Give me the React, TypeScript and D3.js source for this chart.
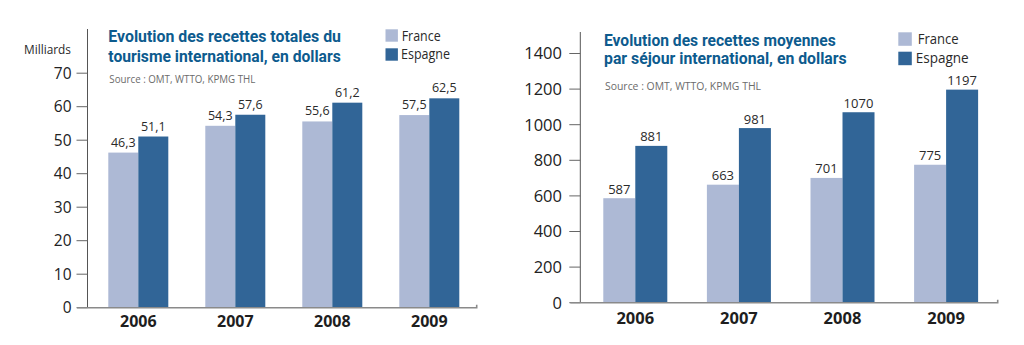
import React from "react";
import * as d3 from "d3";

const years = ["2006", "2007", "2008", "2009"];
const seriesNames = ["France", "Espagne"];
const totalFrance = [46.3, 54.3, 55.6, 57.5];
const totalEspagne = [51.1, 57.6, 61.2, 62.5];
const avgFrance = [587, 663, 701, 775];
const avgEspagne = [881, 981, 1070, 1197];
const totalTicks = [0, 10, 20, 30, 40, 50, 60, 70];
const avgTicks = [0, 200, 400, 600, 800, 1000, 1200, 1400];
const titleTotal = ["Evolution des recettes totales du", "tourisme international, en dollars"];
const titleAvg = ["Evolution des recettes moyennes", "par séjour international, en dollars"];
const sourceText = "Source : OMT, WTTO, KPMG THL";
const unitLabel = "Milliards";

const COLORS: Record<string, string> = { France: "#adb9d5", Espagne: "#316597" };
const TITLE_COLOR = "#0d5b8e";
const FONT = "'Open Sans', 'DejaVu Sans', sans-serif";
const TFONT = "Roboto, 'Open Sans', sans-serif";

type Cfg = {
  france: number[];
  espagne: number[];
  ticks: number[];
  fmt: (v: number) => string;
  axisX: number;
  baseY: number;
  axisTop: number;
  yMax: number;
  yMaxPx: number;
  xRange: [number, number];
  barW: number;
  pInner: number;
  pOuter: number;
  xAxisStart: number;
  xAxisEnd: number;
  tickLabelX: number;
  tickFont: number;
  valueFont: number;
  valueGap: number;
  yearFont: number;
  yearDy: number;
  title: string[];
  titleX: number;
  titleY: number[];
  titleW: number[];
  sourceY: number;
  sourceW: number;
  legend: { sx: number; sy: number[]; s: number; tx: number[]; ty: number[]; tw: number[]; fs: number };
  unit?: { x: number; y: number; w: number };
};

function Chart({ c }: { c: Cfg }) {
  const y = d3.scaleLinear().domain([0, c.yMax]).range([c.baseY, c.yMaxPx]);
  const x0 = d3
    .scaleBand<string>()
    .domain(years)
    .range(c.xRange)
    .paddingInner(c.pInner)
    .paddingOuter(c.pOuter);
  const x1 = d3.scaleBand<string>().domain(seriesNames).range([0, x0.bandwidth()]);
  const vals: Record<string, number[]> = { France: c.france, Espagne: c.espagne };
  return (
    <g>
      {/* titles */}
      {c.title.map((t, i) => (
        <text
          key={t}
          x={c.titleX}
          y={c.titleY[i]}
          fill={TITLE_COLOR}
          fontFamily={TFONT}
          fontWeight={700}
          fontSize={16}
          textLength={c.titleW[i]}
          lengthAdjust="spacingAndGlyphs"
        >
          {t}
        </text>
      ))}
      <text
        x={c.titleX + 1}
        y={c.sourceY}
        fill="#6b6b6b"
        fontFamily={FONT}
        fontSize={11}
        textLength={c.sourceW}
        lengthAdjust="spacingAndGlyphs"
      >
        {sourceText}
      </text>
      {/* legend */}
      {seriesNames.map((s, i) => (
        <g key={s}>
          <rect x={c.legend.sx} y={c.legend.sy[i]} width={c.legend.s} height={c.legend.s} fill={COLORS[s]} />
          <text
            x={c.legend.tx[i]}
            y={c.legend.ty[i]}
            fill="#2a2a2a"
            fontFamily={FONT}
            fontSize={c.legend.fs}
            textLength={c.legend.tw[i]}
            lengthAdjust="spacingAndGlyphs"
          >
            {s}
          </text>
        </g>
      ))}
      {c.unit && (
        <text
          x={c.unit.x}
          y={c.unit.y}
          fill="#2a2a2a"
          fontFamily={FONT}
          fontSize={13}
          textLength={c.unit.w}
          lengthAdjust="spacingAndGlyphs"
        >
          {unitLabel}
        </text>
      )}
      {/* y axis */}
      <line x1={c.axisX} x2={c.axisX} y1={c.axisTop} y2={c.baseY} stroke="#555" strokeWidth={1} />
      {c.ticks.map((t) => (
        <g key={t}>
          <line x1={c.axisX - 11} x2={c.axisX} y1={y(t)} y2={y(t)} stroke="#666" strokeWidth={1} />
          <text
            x={c.tickLabelX}
            y={y(t)}
            dy="0.36em"
            textAnchor="end"
            fill="#222"
            fontFamily={FONT}
            fontSize={c.tickFont}
          >
            {t}
          </text>
        </g>
      ))}
      {/* bars */}
      {years.map((yr, i) => (
        <g key={yr} transform={`translate(${x0(yr)},0)`}>
          {seriesNames.map((s) => {
            const v = vals[s][i];
            const bx = x1(s) as number;
            return (
              <g key={s}>
                <rect x={bx} y={y(v)} width={x1.bandwidth()} height={c.baseY - y(v)} fill={COLORS[s]} />
                <text
                  x={bx + x1.bandwidth() / 2}
                  y={y(v) - c.valueGap}
                  textAnchor="middle"
                  fill="#2a2a2a"
                  fontFamily={FONT}
                  fontSize={c.valueFont}
                >
                  {c.fmt(v)}
                </text>
              </g>
            );
          })}
          <text
            x={x0.bandwidth() / 2}
            y={c.baseY + c.yearDy}
            textAnchor="middle"
            fill="#1e1e1e"
            fontFamily={FONT}
            fontWeight={700}
            fontSize={c.yearFont}
          >
            {yr}
          </text>
        </g>
      ))}
      {/* x axis */}
      <path
        d={`M${c.xAxisStart},${c.baseY}H${c.xAxisEnd}V${c.baseY - 3}`}
        fill="none"
        stroke="#8a8a8a"
        strokeWidth={1.6}
      />
    </g>
  );
}

const fmtComma = (v: number) => d3.format(".1f")(v).replace(".", ",");
const fmtInt = (v: number) => d3.format("d")(v);

const leftCfg: Cfg = {
  france: totalFrance,
  espagne: totalEspagne,
  ticks: totalTicks,
  fmt: fmtComma,
  axisX: 87.5,
  baseY: 307.7,
  axisTop: 29,
  yMax: 70,
  yMaxPx: 307.7 - 70 * 3.35,
  xRange: [89.8, 477.8],
  barW: 30,
  pInner: 0.3814,
  pOuter: 0.1907,
  xAxisStart: 77,
  xAxisEnd: 476.7,
  tickLabelX: 71.5,
  tickFont: 15.5,
  valueFont: 12.5,
  valueGap: 6,
  yearFont: 16,
  yearDy: 19,
  title: titleTotal,
  titleX: 108.3,
  titleY: [41.7, 61.7],
  titleW: [232.7, 232.4],
  sourceY: 83.3,
  sourceW: 146,
  legend: { sx: 385.5, sy: [29.3, 48.3], s: 12.4, tx: [401.7, 401], ty: [40.7, 59.3], tw: [39, 49], fs: 14 },
  unit: { x: 24, y: 54.3, w: 47 },
};

const rightCfg: Cfg = {
  france: avgFrance,
  espagne: avgEspagne,
  ticks: avgTicks,
  fmt: fmtInt,
  axisX: 580.3,
  baseY: 302.7,
  axisTop: 32,
  yMax: 1400,
  yMaxPx: 302.7 - 1400 * 0.178,
  xRange: [583.5, 997.9],
  barW: 32,
  pInner: 0.3822,
  pOuter: 0.191,
  xAxisStart: 570.3,
  xAxisEnd: 997.7,
  tickLabelX: 562,
  tickFont: 16.5,
  valueFont: 13,
  valueGap: 4.5,
  yearFont: 16.5,
  yearDy: 21,
  title: titleAvg,
  titleX: 604,
  titleY: [46, 64.3],
  titleW: [231.7, 242.7],
  sourceY: 89.7,
  sourceW: 156,
  legend: { sx: 898.3, sy: [32.3, 51.7], s: 13.5, tx: [917.7, 915.7], ty: [44, 63.3], tw: [41, 53], fs: 15 },
};

export default function App() {
  return (
    <div style={{ position: "absolute", left: 0, top: 0 }}>
      <svg width={1024} height={345} viewBox="0 0 1024 345" style={{ display: "block", background: "#fff" }}>
        <rect width={1024} height={345} fill="#fff" />
        <Chart c={leftCfg} />
        <Chart c={rightCfg} />
      </svg>
    </div>
  );
}
